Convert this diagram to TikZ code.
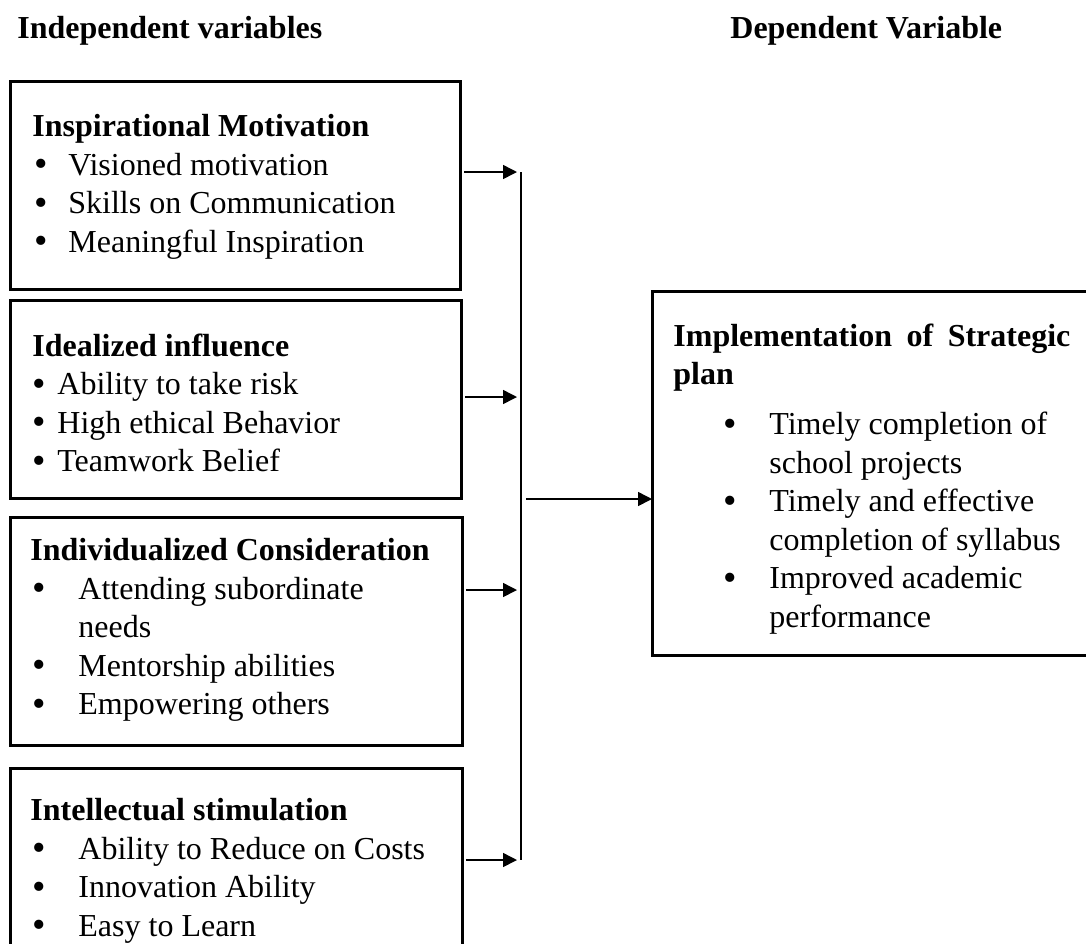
\documentclass[tikz,border=0pt]{standalone}
\usepackage{graphicx}
\usepackage{fontspec}
\setmainfont{Liberation Serif}
\usetikzlibrary{arrows.meta}

% bullet with optional indent, set in a box of given width
\newcommand{\bul}[2][1pt]{\makebox[#2][l]{\hspace*{#1}\raisebox{-0.04em}{\scalebox{1.2}{\textbullet}}}}

\begin{document}
\begin{tikzpicture}[x=0.5pt, y=-0.5pt, >={Triangle[length=7pt,width=7pt]},
  varbox/.style={draw, line width=1.5pt, inner sep=0pt, outer sep=0pt, anchor=north west},
  vartext/.style={inner sep=0pt, anchor=north west, align=left, font=\fontsize{16}{19.25}\selectfont},
  head/.style={inner sep=0pt, anchor=base west, font=\fontsize{16}{19.25}\selectfont\bfseries},
  link/.style={->, line width=0.75pt},
  bus/.style={line width=0.6pt}]
  \useasboundingbox (0,0) rectangle (1086,943);

  % Column headings
  \node[head] (ivhead) at (17,38) {Independent variables};
  \node[head] (dvhead) at (730,38) {Dependent Variable};

  % Independent variable boxes
  \node[varbox, minimum width=225pt, minimum height=104pt] (im) at (10,81) {};
  \node[varbox, minimum width=225.5pt, minimum height=99pt] (ii) at (10,300) {};
  \node[varbox, minimum width=226pt, minimum height=114pt] (ic) at (10,517) {};
  \node[varbox, minimum width=226pt, minimum height=106pt] (is) at (10,768) {};

  \node[vartext] (imtext) at ([shift={(22,33.3)}]im.north west)
    {\textbf{Inspirational Motivation}\\
     \bul{18pt}Visioned motivation\\
     \bul{18pt}Skills on Communication\\
     \bul{18pt}Meaningful Inspiration};
  \node[vartext] (iitext) at ([shift={(22,33.3)}]ii.north west)
    {\textbf{Idealized influence}\\
     \bul[0pt]{12.5pt}Ability to take risk\\
     \bul[0pt]{12.5pt}High ethical Behavior\\
     \bul[0pt]{12.5pt}Teamwork Belief};
  \node[vartext] (ictext) at ([shift={(20,21.3)}]ic.north west)
    {\textbf{Individualized Consideration}\\
     \bul{24pt}Attending subordinate\\
     \hspace*{24pt}needs\\
     \bul{24pt}Mentorship abilities\\
     \bul{24pt}Empowering others};
  \node[vartext] (istext) at ([shift={(20,30.3)}]is.north west)
    {\textbf{Intellectual stimulation}\\
     \bul{24pt}Ability to Reduce on Costs\\
     \bul{24pt}Innovation Ability\\
     \bul{24pt}Easy to Learn};

  % Dependent variable box
  \node[varbox, minimum width=222pt, minimum height=182pt] (dv) at (652,291) {};
  \node[vartext] (dvtext) at ([shift={(21,32.3)}]dv.north west)
    {\textbf{\makebox[198.5pt][s]{Implementation of Strategic}}\\
     \textbf{plan}\\[5.75pt]
     \bul[25pt]{48pt}Timely completion of\\
     \hspace*{48pt}school projects\\
     \bul[25pt]{48pt}Timely and effective\\
     \hspace*{48pt}completion of syllabus\\
     \bul[25pt]{48pt}Improved academic\\
     \hspace*{48pt}performance};

  % Collecting line and arrows
  \coordinate (a1) at (521,172);
  \coordinate (a2) at (521,397);
  \coordinate (a3) at (521,590);
  \coordinate (a4) at (521,860);
  \coordinate (mid) at (521,499);
  \draw[bus] (a1) -- (a4);
  \draw[link, shorten <=2pt, shorten >=2pt] (im.east |- a1) -- (a1);
  \draw[link, shorten <=2pt, shorten >=2pt] (ii.east |- a2) -- (a2);
  \draw[link, shorten <=2pt, shorten >=2pt] (ic.east |- a3) -- (a3);
  \draw[link, shorten <=2pt, shorten >=2pt] (is.east |- a4) -- (a4);
  \draw[link, shorten <=2.5pt] (mid) -- (dv.west |- mid);
\end{tikzpicture}
\end{document}
